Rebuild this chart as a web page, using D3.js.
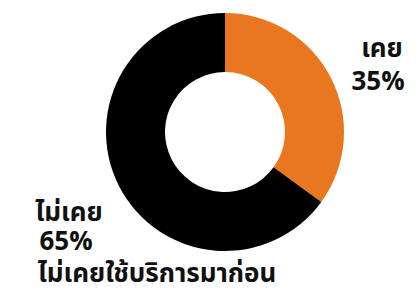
<!DOCTYPE html>
<html>
<head>
<meta charset="utf-8">
<script src="https://cdn.jsdelivr.net/npm/d3@7"></script>
<style>
  body { margin: 0; background: #fff; }
  text { font-family: "Noto Sans Thai", "Noto Sans", "DejaVu Sans", sans-serif; font-weight: bold; fill: #111; }
</style>
</head>
<body>
<script>
var width = 416, height = 293;

// data
var categories = ["เคย", "ไม่เคย"];
var values = [35, 65];
var colors = ["#E8771F", "#000000"];
var subLabels = ["", "ไม่เคยใช้บริการมาก่อน"];

var cx = 225, cy = 132, outerR = 119, innerR = 60;

var svg = d3.select("body").append("svg")
  .attr("width", width)
  .attr("height", height);

var pie = d3.pie().sort(null).value(function(d) { return d; });
var arc = d3.arc().innerRadius(innerR).outerRadius(outerR);

var g = svg.append("g").attr("transform", "translate(" + cx + "," + cy + ")");

g.selectAll("path")
  .data(pie(values))
  .enter().append("path")
  .attr("d", arc)
  .attr("fill", function(d, i) { return colors[i]; });

// labels
// เคย 35%
svg.append("text").attr("x", 382).attr("y", 57).attr("text-anchor", "middle")
  .attr("font-size", 26).text(categories[0]);
svg.append("text").attr("x", 378).attr("y", 90).attr("text-anchor", "middle")
  .attr("font-size", 26).text(values[0] + "%");

// ไม่เคย 65%
svg.append("text").attr("x", 69).attr("y", 221).attr("text-anchor", "middle")
  .attr("font-size", 26).text(categories[1]);
svg.append("text").attr("x", 66).attr("y", 250).attr("text-anchor", "middle")
  .attr("font-size", 26).text(values[1] + "%");
svg.append("text").attr("x", 157).attr("y", 282).attr("text-anchor", "middle")
  .attr("font-size", 26).text(subLabels[1]);
</script>
</body>
</html>
